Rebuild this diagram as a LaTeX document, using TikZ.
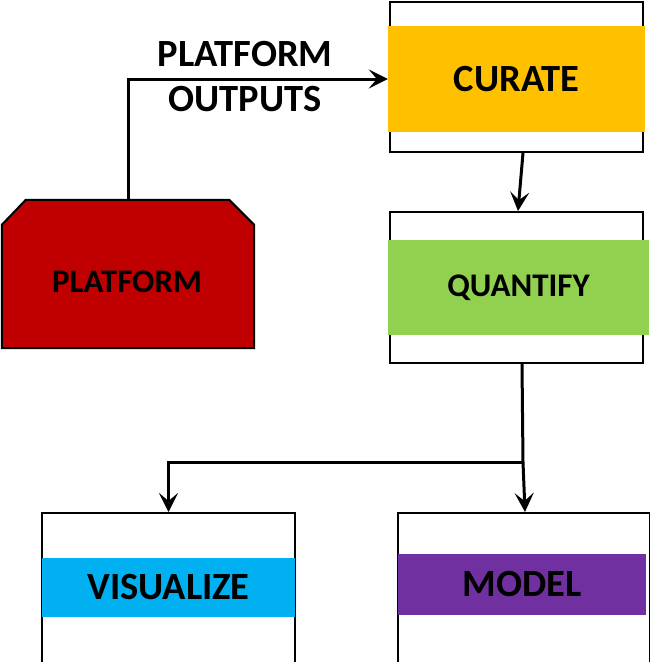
\documentclass[tikz,border=0pt]{standalone}
\usepackage{fontspec}
\setmainfont{Carlito}
\usetikzlibrary{arrows.meta,calc}
\definecolor{cyell}{HTML}{FFC000}
\definecolor{cgreen}{HTML}{92D050}
\definecolor{ccyan}{HTML}{00B0F0}
\definecolor{cpurp}{HTML}{7030A0}
\definecolor{cred}{HTML}{C00000}
\tikzset{
  outerbox/.style={draw=black,line width=2pt,fill=white,minimum width=253pt,inner sep=0pt},
  band/.style={inner sep=0pt,font=\bfseries\fontsize{38.5}{40}\selectfont},
  conn/.style={line width=3pt,-{Stealth[length=19pt,width=19pt,inset=8pt]}},
  plain/.style={line width=3pt},
}
\begin{document}
\begin{tikzpicture}[x=1pt,y=-1pt]
\useasboundingbox (0,0) rectangle (650,662);
\clip (0,0) rectangle (650,662);
% outer boxes
\node[outerbox,minimum height=150pt] (curbox) at (516.5,77) {};
\node[outerbox,minimum height=151pt] (qbox) at (516.5,287.5) {};
\node[outerbox,minimum height=190pt] (vbox) at (168.5,608) {};
\node[outerbox,minimum width=252pt,minimum height=190pt] (mbox) at (524,608) {};
% colored bands
\node[band,fill=cyell,minimum width=257pt,minimum height=106pt] (cur) at (516.5,79) {CURATE};
\node[band,fill=cgreen,minimum width=261pt,minimum height=95pt,font=\bfseries\fontsize{33}{36}\selectfont] (quant) at (518.5,287.5) {QUANTIFY};
\node[band,fill=ccyan,minimum width=253pt,minimum height=59pt] (vis) at (168.5,587.5) {VISUALIZE};
\node[band,fill=cpurp,minimum width=248pt,minimum height=61pt] (model) at (522,584.5) {MODEL};
% platform
\node[inner sep=0pt,minimum width=252pt,minimum height=148pt] (plat) at (128,274) {};
\draw[line width=2pt,fill=cred,line join=miter]
  ($(plat.north west)+(0,25)$) -- ($(plat.north west)+(24,0)$) --
  ($(plat.north east)+(-25,0)$) -- ($(plat.north east)+(0,25)$) --
  (plat.south east) -- (plat.south west) -- cycle;
\node[inner sep=0pt,font=\bfseries\fontsize{33}{36}\selectfont] (plattxt) at (127,282) {PLATFORM};
% label
\node[inner sep=0pt,align=center,font=\bfseries\fontsize{38.5}{45}\selectfont] (lbl) at (245,77) {PLATFORM\\OUTPUTS};
% connectors
\draw[conn] (plat.north) |- (cur.west);
\draw[conn] ([xshift=6.5pt]curbox.south) -- ([xshift=1.5pt]qbox.north);
\coordinate (br) at (523,462);
\draw[plain] ([xshift=5.5pt]qbox.south) -- (br);
\draw[conn] (br) -- ([xshift=1pt]mbox.north);
\draw[conn] (br) -| (vbox.north);
\end{tikzpicture}
\end{document}
